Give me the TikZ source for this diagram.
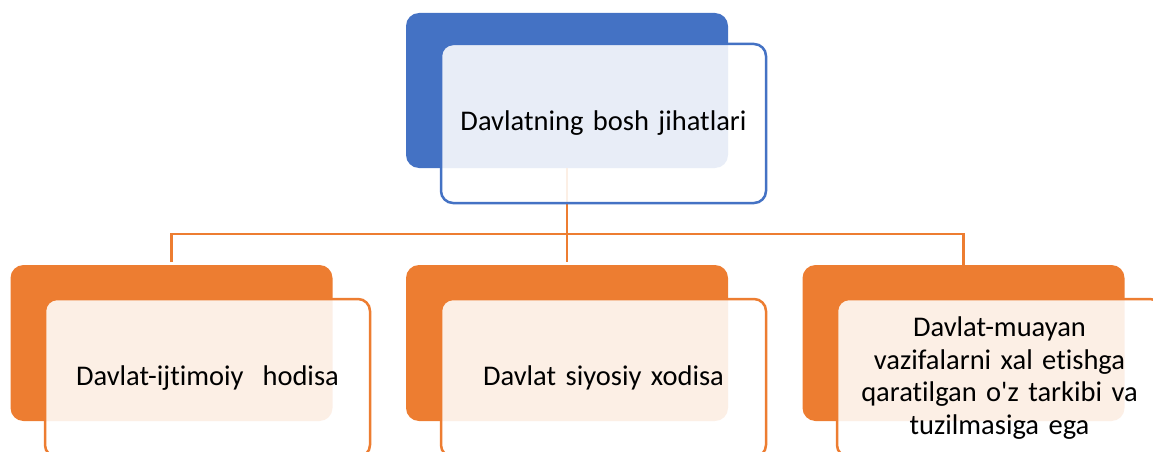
\documentclass[tikz,border=0pt]{standalone}
\usepackage{fontspec}
\setmainfont{Carlito}[Ligatures=NoCommon]
\definecolor{cblue}{HTML}{4472C4}
\definecolor{corange}{HTML}{ED7D31}
\tikzset{
  backbox/.style={rectangle, rounded corners=13pt, inner sep=0pt, outer sep=0pt,
    minimum width=322pt, minimum height=156pt},
  frontbox/.style={rectangle, rounded corners=12pt, inner sep=0pt, outer sep=0pt,
    minimum width=325pt, minimum height=158pt, line width=2.5pt,
    fill=white, fill opacity=0.88, text opacity=1,
    font=\fontsize{28.5}{32.5}\selectfont, align=center, text width=300pt},
  conn/.style={draw=corange, line width=2.8pt}
}
\begin{document}
\begin{tikzpicture}[x=1pt,y=-1pt]
\useasboundingbox (0,0) rectangle (1153,452);
\clip (0,0) rectangle (1153,452);
% back boxes
\node[backbox, fill=cblue, minimum height=155pt] (tb) at (567,90.5) {};
\coordinate (hub) at (567,234);
\node[backbox, fill=corange] (bl) at (171.5,343) {};
\node[backbox, fill=corange] (bm) at (567,343) {};
\node[backbox, fill=corange] (br) at (963.5,343) {};
% connectors
\draw[conn] (tb.south) -- (hub);
\draw[conn, shorten >=3pt] (hub) -- (bm.north);
\draw[conn, shorten <=3pt] (bl.north) -- (bl.north |- hub) -- (br.north |- hub) -- (br.north);
% front boxes
\node[frontbox, draw=cblue, minimum height=159pt] (tf) at (603.5,123.5) {Davlatning bosh jihatlari};
\node[frontbox, draw=corange] (fl) at (207.5,378) {Davlat-ijtimoiy\ \ hodisa};
\node[frontbox, draw=corange] (fm) at (603.5,378) {Davlat siyosiy xodisa};
\node[frontbox, draw=corange] (fr) at (999.5,378) {Davlat-muayan\\vazifalarni xal etishga\\qaratilgan o\textquotesingle z tarkibi va\\tuzilmasiga ega};
\end{tikzpicture}
\end{document}
